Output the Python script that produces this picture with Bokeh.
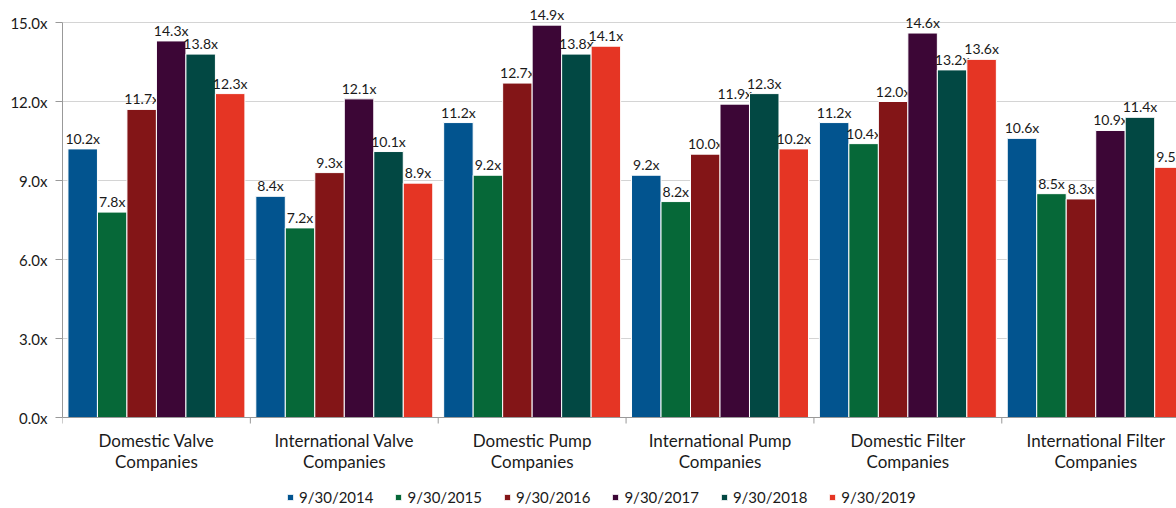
from bokeh.plotting import figure
from bokeh.models import Range1d, FixedTicker, PrintfTickFormatter, Legend, LegendItem, ColumnDataSource, Span
from bokeh.core.properties import value
from bokeh.embed import file_html
from bokeh.resources import INLINE

cat_line1 = ["Domestic Valve", "International Valve", "Domestic Pump", "International Pump",
             "Domestic Filter", "International Filter"]
cat_line2 = ["Companies", "Companies", "Companies", "Companies", "Companies", "Companies"]
series = ["9/30/2014", "9/30/2015", "9/30/2016", "9/30/2017", "9/30/2018", "9/30/2019"]
s2014 = [10.2, 8.4, 11.2, 9.2, 11.2, 10.6]
s2015 = [7.8, 7.2, 9.2, 8.2, 10.4, 8.5]
s2016 = [11.7, 9.3, 12.7, 10.0, 12.0, 8.3]
s2017 = [14.3, 12.1, 14.9, 11.9, 14.6, 10.9]
s2018 = [13.8, 10.1, 13.8, 12.3, 13.2, 11.4]
s2019 = [12.3, 8.9, 14.1, 10.2, 13.6, 9.5]
values = [s2014, s2015, s2016, s2017, s2018, s2019]
colors = ["#02548F", "#066838", "#831517", "#3C0636", "#024843", "#E53524"]
yticks = [0, 3, 6, 9, 12, 15]

FONT = "Lato"
TXT = "#1a1a1a"
AXC = "#999999"

n = len(cat_line1)
PX = 395.0 / 15.0          # pixels per unit on the value axis
y_top = 417.0 / PX
y_bot = -(508.0 - 417.0) / PX

p = figure(width=1176, height=508, output_backend="svg", toolbar_location=None,
           x_range=Range1d(0, 5.93), y_range=Range1d(y_bot, y_top),
           x_axis_location=None,
           min_border_left=62, min_border_right=0, min_border_top=0, min_border_bottom=0)
p.outline_line_color = None
p.background_fill_color = "white"

# grid
p.xgrid.grid_line_color = None
p.ygrid.ticker = FixedTicker(ticks=yticks)
p.ygrid.grid_line_color = "#D4D4D4"
p.ygrid.grid_line_width = 1

pitch = 0.157
items = []
for i, (name, vals, col) in enumerate(zip(series, values, colors)):
    xs = [c + 0.5 + (i - 2.5) * pitch for c in range(n)]
    src = ColumnDataSource(dict(x=xs, top=vals, lab=[f"{v:.1f}x" for v in vals]))
    r = p.vbar(x="x", top="top", width=pitch, bottom=0, source=src, fill_color=col,
               line_color="white", line_width=1)
    p.text(x="x", y="top", text="lab", source=src, text_align="center", text_baseline="bottom",
           y_offset=-2, text_font=value(FONT), text_font_size="14px", text_color=TXT)
    items.append(LegendItem(label=name, renderers=[r]))

# category axis drawn by hand (baseline, boundary ticks, two-line labels)
p.add_layout(Span(location=0, dimension="width", line_color=AXC, line_width=1))
bounds = list(range(n + 1))
p.segment(x0=bounds, y0=[0] * len(bounds), x1=bounds, y1=[-6 / PX] * len(bounds),
          line_color=AXC, line_width=1)
centers = [c + 0.5 for c in range(n)]
p.text(x=centers, y=[-23 / PX] * n, text=cat_line1, text_align="center", text_baseline="middle",
       text_font=value(FONT), text_font_size="17px", text_color=TXT)
p.text(x=centers, y=[-44 / PX] * n, text=cat_line2, text_align="center", text_baseline="middle",
       text_font=value(FONT), text_font_size="17px", text_color=TXT)

# value axis
p.yaxis.ticker = FixedTicker(ticks=yticks)
p.yaxis.formatter = PrintfTickFormatter(format="%.1fx")
p.yaxis.bounds = (0, 15)
p.yaxis.axis_line_color = AXC
p.yaxis.major_tick_line_color = AXC
p.yaxis.major_tick_out = 7
p.yaxis.major_tick_in = 0
p.yaxis.minor_tick_line_color = None
p.yaxis.major_label_text_font = FONT
p.yaxis.major_label_text_font_size = "15px"
p.yaxis.major_label_text_color = TXT
p.yaxis.major_label_standoff = 8

legend = Legend(items=items, orientation="horizontal", location=(224, 2),
                glyph_width=8, glyph_height=8, label_standoff=5, spacing=21, padding=0, margin=0,
                border_line_color=None, background_fill_alpha=0,
                label_text_font=FONT, label_text_font_size="15px", label_text_color=TXT)
p.add_layout(legend, "center")

open("out.html", "w").write(file_html(p, INLINE))
